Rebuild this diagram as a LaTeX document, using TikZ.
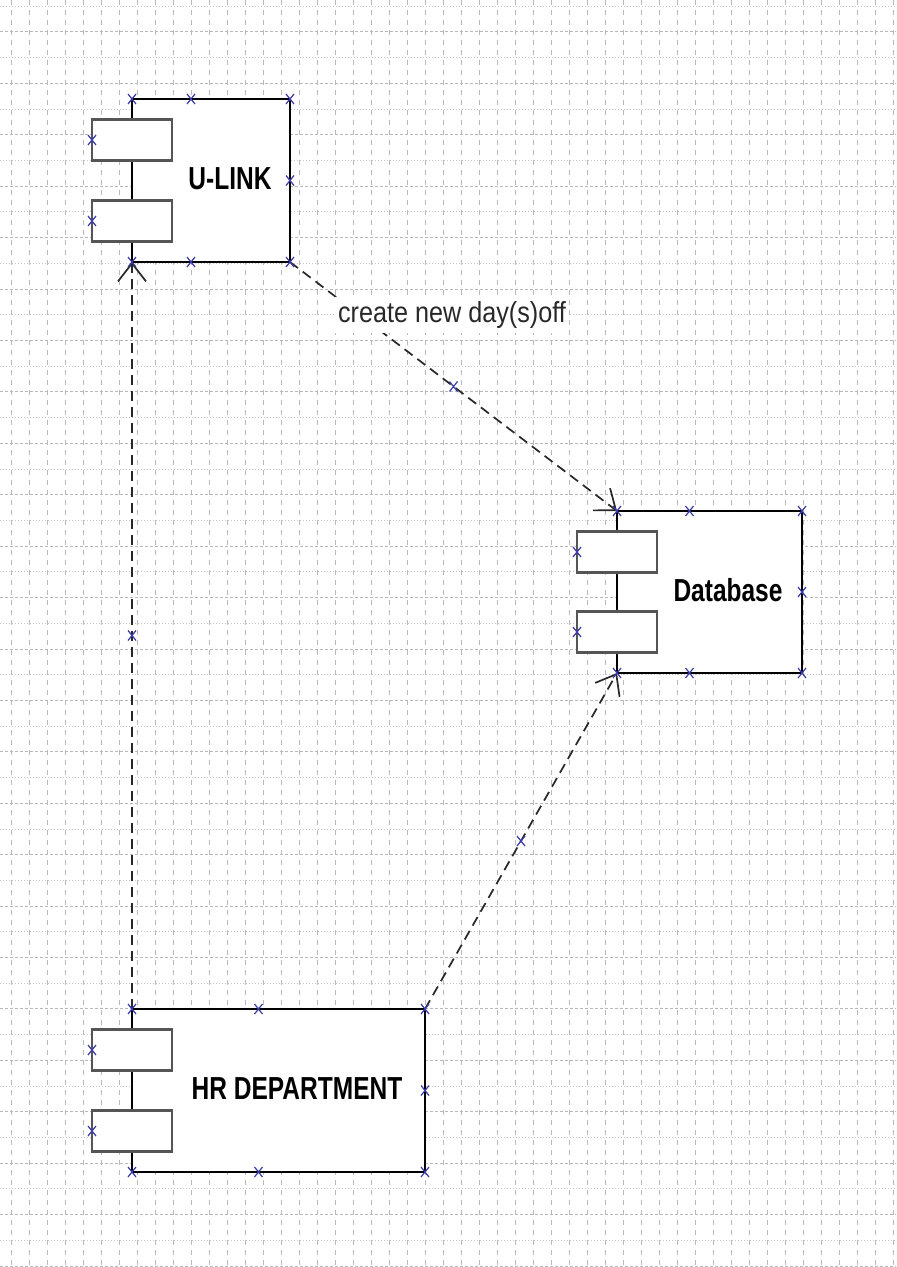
\documentclass[tikz,border=0pt]{standalone}
\usepackage{fontspec}
\setmainfont{Liberation Sans}
\usepackage{graphicx}
\usetikzlibrary{arrows.meta,calc}
\definecolor{gridc}{RGB}{185,185,185}
\definecolor{mkblue}{RGB}{60,60,170}
\definecolor{depc}{RGB}{40,40,40}
\definecolor{partc}{RGB}{85,85,85}
\tikzset{
  gridv/.style={gridc, line width=0.5pt, dash pattern=on 2.5pt off 2.5pt},
  gridh/.style={gridc, line width=0.5pt, dash pattern=on 1.5pt off 1pt},
  gridd/.style={gridc!80, line width=0.5pt, dash pattern=on 0.5pt off 1pt},
  comp/.style={draw=black, fill=white, line width=1pt, rectangle, outer sep=0pt, inner sep=0pt},
  part/.style={draw=partc, fill=white, line width=1.25pt, rectangle,
    minimum width=40pt, minimum height=20.5pt, outer sep=0pt, inner sep=0pt},
  ctitle/.style={font=\fontsize{12.25pt}{14pt}\selectfont\bfseries, text=black, inner sep=0pt},
  depline/.style={draw=depc, line width=0.85pt, dash pattern=on 5pt off 3pt,
    -{Straight Barb[length=9pt,width=14pt]}},
  mk/.style={draw=mkblue, line width=0.6pt, solid},
  xmk/.pic={\draw[mk] (-4,-5) -- (4,5) (-4,5) -- (4,-5);},
  lbl/.style={fill=white, text=depc, font=\fontsize{12.6pt}{14pt}\selectfont,
    inner xsep=1.5pt, inner ysep=2pt}
}
\begin{document}
\begin{tikzpicture}[x=0.5pt,y=-0.5pt]
\useasboundingbox (0,0) rectangle (896,1267);
\fill[white] (0,0) rectangle (896,1267);

% background grid
\foreach \k in {0,...,49} \draw[gridv] ({11+18*\k},0) -- ({11+18*\k},1267);
\foreach \k in {0,2,...,48} \draw[gridh] (0,{32+25.71*\k}) -- (896,{32+25.71*\k});
\foreach \k in {-1,1,...,47} \draw[gridd] (0,{32+25.71*\k}) -- (896,{32+25.71*\k});

% components
\node[comp, minimum width=79pt, minimum height=81.5pt] (ulink) at (211,180.5) {};
\node[part] (ulinkp1) at ($(ulink.north west)+(0,41)$) {};
\node[part] (ulinkp2) at ($(ulink.south west)+(0,-41)$) {};
\node[ctitle] (ulinkt) at (230,179) {\scalebox{1}[1.3]{U-LINK}};

\node[comp, minimum width=92.5pt, minimum height=81pt] (db) at (709.5,592) {};
\node[part] (dbp1) at ($(db.north west)+(0,41)$) {};
\node[part] (dbp2) at ($(db.south west)+(0,-41)$) {};
\node[ctitle] (dbt) at (728,590) {\scalebox{1}[1.3]{Database}};

\node[comp, minimum width=146.5pt, minimum height=81.5pt] (hr) at (278.5,1090.5) {};
\node[part] (hrp1) at ($(hr.north west)+(0,41)$) {};
\node[part] (hrp2) at ($(hr.south west)+(0,-41)$) {};
\node[ctitle] (hrt) at (297,1089) {\scalebox{1}[1.3]{HR DEPARTMENT}};

% dependencies
\draw[depline] (ulink.south east) -- (db.north west);
\draw[depline] (hr.north west) -- (ulink.south west);
\draw[depline] (hr.north east) -- (db.south west);
\node[lbl] (lab) at (452,315) {\scalebox{1}[1.15]{create new day(s)off}};

% selection handles
\foreach \c in {ulink,db,hr} {
  \foreach \a in {north west,north east,south west,south east,east}
    \pic at (\c.\a) {xmk};
  \pic at (\c p1.west) {xmk};
  \pic at (\c p2.west) {xmk};
  \pic at ($(\c p1.west |- \c.north)!0.5!(\c.north east)$) {xmk};
  \pic at ($(\c p1.west |- \c.south)!0.5!(\c.south east)$) {xmk};
}
\pic at ($(ulink.south east)!0.5!(db.north west)$) {xmk};
\pic at ($(hr.north west)!0.5!(ulink.south west)$) {xmk};
\pic at ($(hr.north east)!0.5!(db.south west)$) {xmk};
\end{tikzpicture}
\end{document}
